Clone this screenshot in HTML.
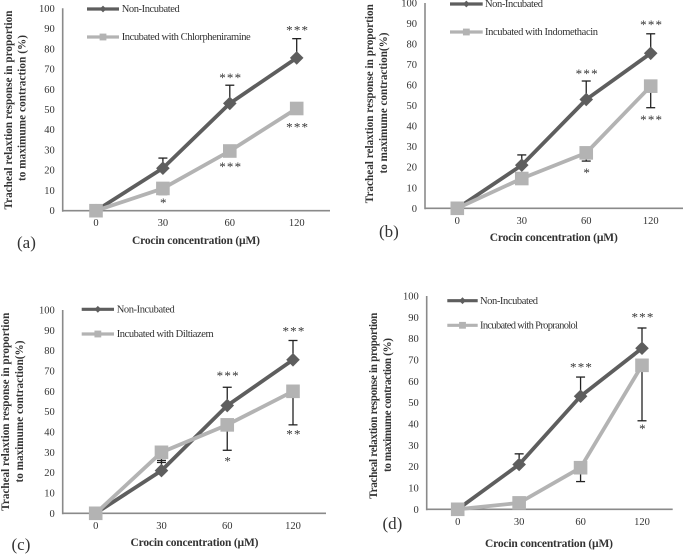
<!DOCTYPE html>
<html>
<head>
<meta charset="utf-8">
<title>Tracheal relaxation response to crocin</title>
<style>
html,body{margin:0;padding:0;background:#fff;width:683px;height:554px;overflow:hidden}
svg{display:block;filter:blur(0.3px)}
text{font-family:"Liberation Serif",serif;fill:#333}
</style>
</head>
<body>
<svg id="fig" width="683" height="554" viewBox="0 0 683 554" xmlns="http://www.w3.org/2000/svg"></svg>
<script>
// ---- Data ----
const categories = ['0', '30', '60', '120'];
const yTicks = [0, 10, 20, 30, 40, 50, 60, 70, 80, 90, 100];
const nonIncubatedMeans = [0, 21, 53, 75.5];
const nonIncubatedUpper = [null, 26, 62, 85];

const chlorMeans = [0, 11, 29.5, 50.5];
const chlorLower = [null, 8, null, null];
const chlorStars = [[3, 89.5, '***'], [2, 66, '***'], [3, 41.5, '***'], [2, 22, '***'], [1, 4.4, '*']];

const indoMeans = [0, 14.5, 27, 59.5];
const indoLower = [null, 12.5, 23, 49];
const indoStars = [[3, 89.8, '***'], [2, 66, '***'], [3, 43.4, '***'], [2, 17.8, '*']];

const diltMeans = [0, 30, 43.5, 60];
const diltLower = [null, 25, 31, 43.5];
const diltStars = [[3, 90, '***'], [2, 68, '***'], [3, 39.3, '**'], [2, 26, '*']];

const propMeans = [0, 3, 19.5, 67.5];
const propLower = [null, null, 13, 41.5];
const propStars = [[3, 90.3, '***'], [2, 67, '***'], [3, 38, '*']];

const DARK = '#5e5e5e', LIGHT = '#b3b3b3', AXIS = '#8a8a8a';
const svg = document.getElementById('fig');
const NS = 'http://www.w3.org/2000/svg';

function mk(tag, attrs, parent, text) {
  const el = document.createElementNS(NS, tag);
  for (const k in attrs) el.setAttribute(k, attrs[k]);
  if (text !== undefined) el.textContent = text;
  parent.appendChild(el);
  return el;
}
function marker(kind, cx, cy, r, color, parent, name) {
  let el;
  if (kind === 'diamond') {
    el = mk('polygon', {points: [cx, cy - r, cx + r, cy, cx, cy + r, cx - r, cy].join(','), fill: color}, parent);
  } else {
    el = mk('rect', {x: cx - r, y: cy - r, width: 2 * r, height: 2 * r, fill: color}, parent);
  }
  
  
  return el;
}
function poly(values, X, Y, color, parent, name) {
  const pts = values.map((v, i) => X(i) + ',' + Y(v)).join(' ');
  const el = mk('polyline', {points: pts, fill: 'none', stroke: color, 'stroke-width': 3.8, 'stroke-linejoin': 'round'}, parent);
  
  
}
function errorBars(means, bounds, X, Y, parent, name) {
  bounds.forEach((b, i) => {
    if (b === null) return;
    const g = mk('g', {stroke: '#222', 'stroke-width': 1.3}, parent);
    
    
    mk('line', {x1: X(i), x2: X(i), y1: Y(means[i]), y2: Y(b)}, g);
    mk('line', {x1: X(i) - 4.5, x2: X(i) + 4.5, y1: Y(b), y2: Y(b)}, g);
  });
}

function drawPanel(p) {
  const g = mk('g', {}, svg);
  
  
  const Y = v => p.y0 + (p.y100 - p.y0) * v / 100;
  const X = i => p.x0 + (p.x3 - p.x0) * i / 3;

  // axes
  const yAxis = mk('line', {x1: p.ax, x2: p.ax, y1: p.y100, y2: p.y0 + 1, stroke: AXIS, 'stroke-width': 1.6}, g);
  
  
  const xAxis = mk('line', {x1: p.ax, x2: p.axEnd, y1: p.y0, y2: p.y0, stroke: AXIS, 'stroke-width': 1.6}, g);
  
  

  // tick labels
  yTicks.forEach(t => {
    const el = mk('text', {x: p.ax - 8, y: Y(t) + 3.5, 'text-anchor': 'end', 'font-size': 10.5}, g, String(t));
    
    
  });
  categories.forEach((c, i) => {
    const el = mk('text', {x: X(i), y: p.y0 + 15.5, 'text-anchor': 'middle', 'font-size': 10.5}, g, c);
    
    
  });

  // axis titles
  const xt = mk('text', {x: p.xtX, y: p.xtY, 'text-anchor': 'middle', 'font-size': 11.5, 'font-weight': 'bold', fill: '#1c1c1c', textLength: 128, lengthAdjust: 'spacing'}, g, 'Crocin concentration (µM)');
  
  
  p.yt.forEach(l => {
    const t = mk('text', {transform: 'translate(' + l.x + ',' + l.c + ') rotate(-90)', 'text-anchor': 'middle', 'font-size': 11.2, 'font-weight': 'bold', fill: '#1c1c1c', textLength: l.len, lengthAdjust: 'spacing'}, g, l.t);
    
    
  });

  // series
  errorBars(nonIncubatedMeans, nonIncubatedUpper, X, Y, g, 'non-incubated-error-bar');
  errorBars(p.means, p.lower, X, Y, g, 'incubated-error-bar');
  poly(nonIncubatedMeans, X, Y, DARK, g, 'non-incubated-line');
  nonIncubatedMeans.forEach((v, i) => marker('diamond', X(i), Y(v), 6.8, DARK, g, 'non-incubated-point-' + categories[i]));
  poly(p.means, X, Y, LIGHT, g, 'incubated-line');
  p.means.forEach((v, i) => marker('square', X(i), Y(v), 6.8, LIGHT, g, 'incubated-point-' + categories[i]));

  // significance stars
  p.stars.forEach(s => {
    const el = mk('text', {x: X(s[0]) + 1, y: Y(s[1]) + 5, 'text-anchor': 'middle', 'font-size': 13, 'letter-spacing': 1.2, fill: '#222'}, g, s[2]);
    
    
  });

  // legend
  const lg = mk('g', {}, g);
  
  
  const lm = (p.lx1 + p.lx2) / 2;
  mk('line', {x1: p.lx1, x2: p.lx2, y1: p.ly1, y2: p.ly1, stroke: DARK, 'stroke-width': 3.2}, lg);
  marker('diamond', lm, p.ly1, 3.4, DARK, lg, 'legend-marker-non-incubated');
  const t1 = mk('text', {x: p.ltx, y: p.ly1 + 3.2, 'font-size': 10.5, textLength: 58, lengthAdjust: 'spacing'}, lg, 'Non-Incubated');
  
  
  mk('line', {x1: p.lx1, x2: p.lx2, y1: p.ly2, y2: p.ly2, stroke: LIGHT, 'stroke-width': 3.2}, lg);
  marker('square', lm, p.ly2, 3.4, LIGHT, lg, 'legend-marker-incubated');
  const t2 = mk('text', {x: p.ltx, y: p.ly2 + 3.2, 'font-size': 10.5, textLength: p.lLen, lengthAdjust: 'spacing'}, lg, p.lText);
  
  

  // panel tag
  const tag = mk('text', {x: p.tagX, y: p.tagY, 'font-size': 17, fill: '#222'}, g, '(' + p.id + ')');
  
  
}

drawPanel({
  id: 'a', means: chlorMeans, lower: chlorLower, stars: chlorStars,
  ax: 62.7, axEnd: 330, y0: 210.7, y100: 8.3, x0: 96, x3: 296.7,
  xtX: 196, xtY: 244, tagX: 17, tagY: 248,
  yt: [{x: 12, c: 110, len: 199, t: 'Tracheal relaxtion response in proportion'},
       {x: 25.5, c: 108, len: 146, t: 'to maximume contraction (%)'}],
  lx1: 87, lx2: 119, ly1: 9, ly2: 37, ltx: 121.7, lLen: 129, lText: 'Incubated with Chlorpheniramine'
});
drawPanel({
  id: 'b', means: indoMeans, lower: indoLower, stars: indoStars,
  ax: 425, axEnd: 683, y0: 208.3, y100: 3, x0: 457.3, x3: 650.7,
  xtX: 553.8, xtY: 241, tagX: 379, tagY: 237,
  yt: [{x: 373, c: 103.7, len: 199, t: 'Tracheal relaxtion response in proportion'},
       {x: 387, c: 103, len: 141, t: 'to maximume contraction(%)'}],
  lx1: 450, lx2: 482.7, ly1: 4, ly2: 32, ltx: 485, lLen: 113, lText: 'Incubated with Indomethacin'
});
drawPanel({
  id: 'c', means: diltMeans, lower: diltLower, stars: diltStars,
  ax: 62.7, axEnd: 326, y0: 513.3, y100: 310, x0: 95.7, x3: 293,
  xtX: 194.5, xtY: 546, tagX: 11.5, tagY: 550,
  yt: [{x: 9, c: 411.7, len: 198, t: 'Tracheal relaxtion response in proportion'},
       {x: 23, c: 411.5, len: 142, t: 'to maximume contraction(%)'}],
  lx1: 81.7, lx2: 114, ly1: 309.3, ly2: 334, ltx: 116.7, lLen: 97, lText: 'Incubated with Diltiazem'
});
drawPanel({
  id: 'd', means: propMeans, lower: propLower, stars: propStars,
  ax: 426.7, axEnd: 672.7, y0: 509.3, y100: 296, x0: 457.7, x3: 642,
  xtX: 549, xtY: 547, tagX: 382.5, tagY: 529,
  yt: [{x: 377, c: 405.7, len: 186, t: 'Tracheal relaxtion response in proportion'},
       {x: 391, c: 405, len: 134, t: 'to maximume contraction (%)'}],
  lx1: 447.3, lx2: 477.7, ly1: 300.7, ly2: 325.3, ltx: 480, lLen: 98, lText: 'Incubated with Propranolol'
});
</script>
</body>
</html>
